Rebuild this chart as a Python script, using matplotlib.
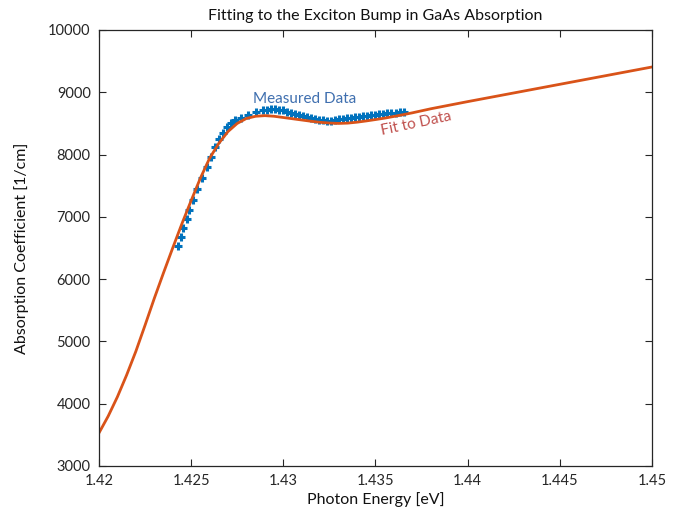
import matplotlib
matplotlib.use("Agg")
import matplotlib.pyplot as plt

# measured absorption points (photon energy in eV, absorption in 1/cm)
meas_energy = [1.424286, 1.424449, 1.424584, 1.424774, 1.424910, 1.425127, 1.425316,
               1.425588, 1.425859, 1.426076, 1.426293, 1.426510, 1.426727, 1.426944,
               1.427161, 1.427378, 1.427703, 1.428083, 1.428517, 1.428897, 1.429114,
               1.429331, 1.429548, 1.429765, 1.429982, 1.430199, 1.430416, 1.430633,
               1.430850, 1.431067, 1.431284, 1.431501, 1.431718, 1.431935, 1.432152,
               1.432369, 1.432586, 1.432803, 1.433020, 1.433237, 1.433454, 1.433671,
               1.433888, 1.434105, 1.434322, 1.434539, 1.434756, 1.434973, 1.435190,
               1.435407, 1.435624, 1.435841, 1.436112, 1.436329, 1.436546]
meas_absorp = [6532, 6677, 6821, 6966, 7110, 7271, 7447,
               7624, 7800, 7961, 8122, 8250, 8346, 8443,
               8507, 8555, 8587, 8635, 8683, 8708, 8716,
               8724, 8724, 8716, 8708, 8691, 8675, 8659,
               8635, 8619, 8603, 8587, 8571, 8555, 8547,
               8539, 8539, 8547, 8563, 8579, 8587, 8595,
               8603, 8611, 8619, 8627, 8635, 8643, 8651,
               8657, 8663, 8667, 8672, 8678, 8684]

# fitted curve
fit_energy = [1.4200, 1.4205, 1.4210, 1.4215, 1.4220, 1.4225, 1.4230, 1.4235, 1.4240,
              1.4245, 1.4250, 1.4255, 1.4260, 1.4265, 1.4270, 1.4275, 1.4280, 1.4285,
              1.4290, 1.4295, 1.4300, 1.4305, 1.4310, 1.4315, 1.4320, 1.4325, 1.4330,
              1.4335, 1.4340, 1.4345, 1.4350, 1.4355, 1.4360, 1.4365, 1.4370, 1.4380,
              1.4400, 1.4450, 1.4500]
fit_absorp = [3530, 3800, 4110, 4460, 4840, 5260, 5690, 6100, 6500,
              6890, 7260, 7620, 7940, 8180, 8370, 8500, 8580, 8615,
              8625, 8615, 8595, 8575, 8555, 8535, 8518, 8506, 8500,
              8505, 8520, 8540, 8562, 8585, 8612, 8640, 8670, 8735,
              8850, 9128, 9406]

xticks = [1.42, 1.425, 1.43, 1.435, 1.44, 1.445, 1.45]
xticklabels = ['1.42', '1.425', '1.43', '1.435', '1.44', '1.445', '1.45']
yticks = [3000, 4000, 5000, 6000, 7000, 8000, 9000, 10000]

plt.rcParams['font.family'] = ['Lato', 'DejaVu Sans']

fig = plt.figure(figsize=(6.95, 5.18), dpi=100)
ax = fig.add_axes([0.1424, 0.1004, 0.7957, 0.8417])

ax.plot(meas_energy, meas_absorp, linestyle='none', marker='+', markersize=5.5,
        color='#0072BD', markeredgewidth=2.2)
ax.plot(fit_energy, fit_absorp, color='#D95319', linewidth=2)

ax.text(1.43118, 8890, 'Measured Data', color='#3F6FAF', fontsize=11,
        ha='center', va='center')
ax.text(1.4372, 8500, 'Fit to Data', color='#C0504D', fontsize=11,
        ha='center', va='center', rotation=12)

ax.set_xlim(1.42, 1.45)
ax.set_ylim(3000, 10000)
ax.set_xticks(xticks)
ax.set_xticklabels(xticklabels)
ax.set_yticks(yticks)

ax.tick_params(direction='in', top=True, right=True, length=5, width=0.8,
               colors='#262626', labelsize=10.5, pad=6)
for sp in ax.spines.values():
    sp.set_color('#262626')
    sp.set_linewidth(0.9)

ax.set_title('Fitting to the Exciton Bump in GaAs Absorption', fontsize=11.5,
             color='#111111', pad=7)
ax.set_xlabel('Photon Energy [eV]', fontsize=11.5, color='#111111', labelpad=3)
ax.set_ylabel('Absorption Coefficient [1/cm]', fontsize=11.5, color='#111111',
              labelpad=14)

fig.savefig('out.png', dpi=100)
